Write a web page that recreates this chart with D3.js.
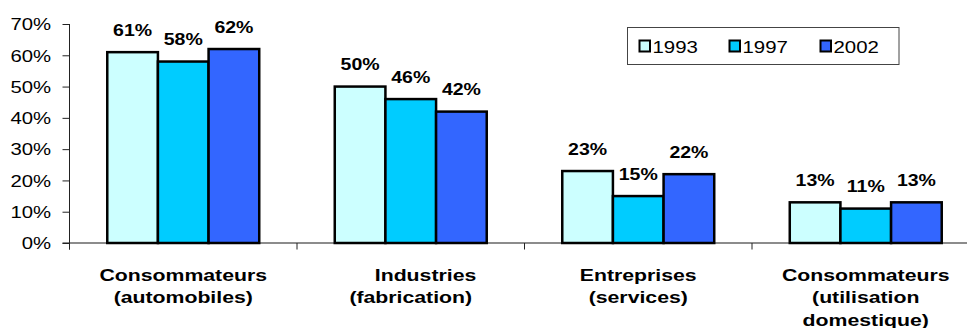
<!DOCTYPE html>
<html>
<head>
<meta charset="utf-8">
<script src="https://cdn.jsdelivr.net/npm/d3@7"></script>
<style>
  html, body { margin: 0; padding: 0; background: #fff; }
  svg { display: block; }
  text { font-family: Arial, "Liberation Sans", sans-serif; fill: #000; white-space: pre; }
</style>
</head>
<body>
<svg id="chart" width="967" height="328"></svg>
<script>
// Category labels (one entry per line)
const categories = ["auto", "fab", "serv", "dom"];
const categoryLines = [
  ["Consommateurs", "(automobiles)"],
  ["     Industries", "(fabrication)"],
  ["Entreprises", "(services)"],
  ["Consommateurs", "(utilisation", "domestique)"]
];
const years = ["1993", "1997", "2002"];
const values1993 = [61, 50, 23, 13];
const values1997 = [58, 46, 15, 11];
const values2002 = [62, 42, 22, 13];
const yTicks = [0, 10, 20, 30, 40, 50, 60, 70];
const colors = ["#CCFFFF", "#00CCFF", "#3366FF"];

const series = [values1993, values1997, values2002];
const stretch = 1.25; // horizontal widening of the lettering

const svg = d3.select("#chart");

const x = d3.scaleBand().domain(categories).range([69.5, 979.5]).padding(0);
const groupW = x.bandwidth() * 0.668;
const x1 = d3.scaleBand().domain(years)
  .range([(x.bandwidth() - groupW) / 2, (x.bandwidth() + groupW) / 2]).padding(0);
const y = d3.scaleLinear().domain([0, 70]).range([243, 24]);

// x axis baseline
svg.append("line")
  .attr("x1", 62.5).attr("x2", 967)
  .attr("y1", y(0)).attr("y2", y(0))
  .attr("stroke", "#666").attr("stroke-width", 1.6);

// category separator ticks
const bounds = categories.map(c => x(c));
svg.selectAll("line.ctick").data(bounds).join("line")
  .attr("class", "ctick")
  .attr("x1", d => d).attr("x2", d => d)
  .attr("y1", y(0)).attr("y2", y(0) + 6.5)
  .attr("stroke", "#222").attr("stroke-width", 1);

// y axis
const yAxis = svg.append("g")
  .attr("transform", "translate(69.5,0)")
  .call(d3.axisLeft(y).tickValues(yTicks).tickSize(7).tickSizeOuter(0).tickFormat(d => d + "%"));
yAxis.select(".domain").attr("stroke", "#222").attr("stroke-width", 1)
  .attr("d", `M0,${y(70)}V${y(0) + 6.5}`);
yAxis.selectAll(".tick line").attr("stroke", "#222");
yAxis.selectAll(".tick text")
  .attr("x", 0).attr("dy", "0.36em")
  .attr("transform", `translate(-18.5,0) scale(1.27,1)`)
  .style("font-size", "16px")
  .style("font-family", "Arial, 'Liberation Sans', sans-serif")
  .attr("fill", "#000");

// bars
const groups = svg.selectAll("g.cat").data(categories).join("g")
  .attr("class", "cat")
  .attr("transform", d => `translate(${x(d)},0)`);

groups.each(function (c, ci) {
  const g = d3.select(this);
  years.forEach((yr, si) => {
    const v = series[si][ci];
    g.append("rect")
      .attr("x", x1(yr)).attr("y", y(v))
      .attr("width", x1.bandwidth()).attr("height", y(0) - y(v))
      .attr("fill", colors[si])
      .attr("stroke", "#000").attr("stroke-width", 2.5);
    g.append("text")
      .attr("transform", `translate(${x1(yr) + x1.bandwidth() / 2},${y(v) - 16.5}) scale(1.22,1)`)
      .attr("text-anchor", "middle")
      .style("font-size", "16px").style("font-weight", "bold")
      .text(v + "%");
  });
  // category label lines
  categoryLines[ci].forEach((line, li) => {
    g.append("text")
      .attr("transform", `translate(${x.bandwidth() / 2},${280.5 + li * 22.5}) scale(${stretch},1)`)
      .attr("text-anchor", "middle")
      .style("font-size", "17px").style("font-weight", "bold")
      .text(line);
  });
});

// legend
const legend = svg.append("g");
legend.append("rect")
  .attr("x", 627.5).attr("y", 27.5).attr("width", 271.5).attr("height", 37)
  .attr("fill", "#fff").attr("stroke", "#444").attr("stroke-width", 1);
const legendX = [639.5, 729.5, 820.5];
years.forEach((yr, i) => {
  legend.append("rect")
    .attr("x", legendX[i]).attr("y", 40.5).attr("width", 10.5).attr("height", 11)
    .attr("fill", colors[i]).attr("stroke", "#000").attr("stroke-width", 2);
  legend.append("text")
    .attr("transform", `translate(${legendX[i] + 13},${52.5}) scale(1.2,1)`)
    .style("font-size", "17px")
    .text(yr);
});
</script>
</body>
</html>
